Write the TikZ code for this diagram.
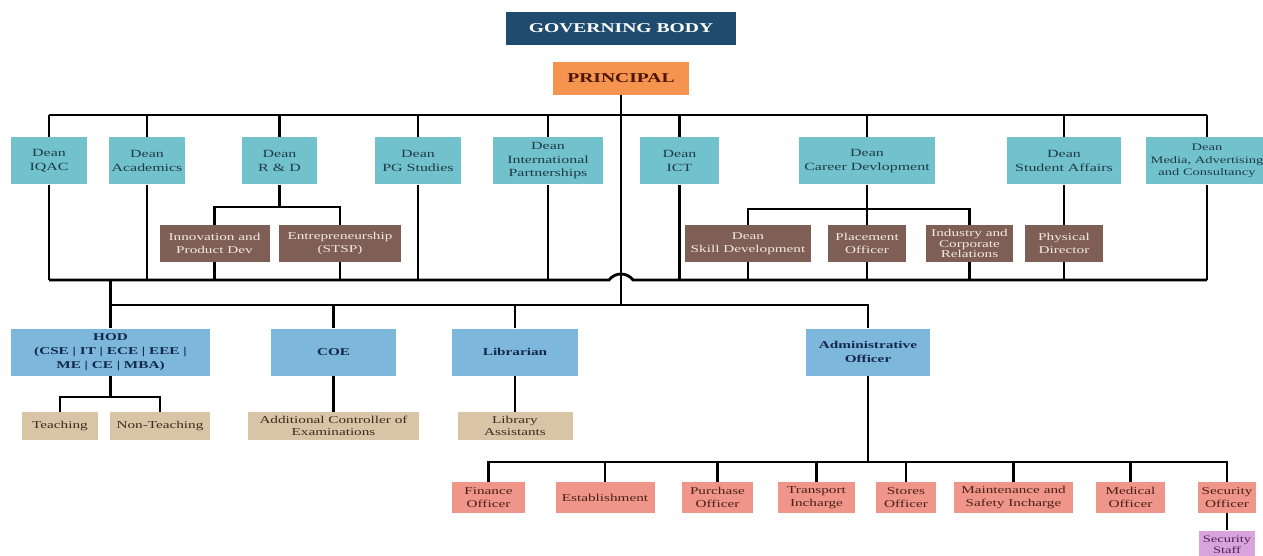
\documentclass[tikz,border=0pt]{standalone}
\usepackage{fontspec}
\setmainfont{Liberation Serif}[FakeStretch=1.45]
\usepackage{tikz}
\usetikzlibrary{calc}
\definecolor{govnavy}{HTML}{1F4B6E}
\definecolor{princorange}{HTML}{F5944E}
\definecolor{princtext}{HTML}{4B1508}
\definecolor{deanteal}{HTML}{72C2CD}
\definecolor{deantext}{HTML}{1F3B45}
\definecolor{unitbrown}{HTML}{7E5E55}
\definecolor{unittext}{HTML}{F3E9E4}
\definecolor{headblue}{HTML}{7DB8DC}
\definecolor{headtext}{HTML}{13294B}
\definecolor{stafftan}{HTML}{D9C4A6}
\definecolor{stafftext}{HTML}{3B2B1E}
\definecolor{officesalmon}{HTML}{F0958A}
\definecolor{officetext}{HTML}{4A2018}
\definecolor{guardlilac}{HTML}{D9A3DD}
\definecolor{guardtext}{HTML}{4E2450}

\begin{document}
\begin{tikzpicture}[
    x=1pt, y=-1pt,
    every node/.style={align=center, inner sep=0pt},
    govbox/.style={fill=govnavy, text=white, minimum height=33pt, font=\bfseries\fontsize{13.5}{15}\selectfont},
    princbox/.style={fill=princorange, text=princtext, minimum height=33pt, font=\bfseries\fontsize{13.5}{15}\selectfont},
    deanbox/.style={fill=deanteal, text=deantext, minimum height=47pt, font=\fontsize{11}{13.5}\selectfont},
    unitbox/.style={fill=unitbrown, text=unittext, minimum height=37pt, font=\fontsize{10.5}{12.5}\selectfont},
    headbox/.style={fill=headblue, text=headtext, minimum height=47pt, font=\bfseries\fontsize{10.5}{14}\selectfont},
    staffbox/.style={fill=stafftan, text=stafftext, minimum height=28pt, font=\fontsize{10.5}{11.5}\selectfont},
    officebox/.style={fill=officesalmon, text=officetext, minimum height=31pt, font=\fontsize{10.5}{13}\selectfont},
    guardbox/.style={fill=guardlilac, text=guardtext, minimum height=28pt, font=\fontsize{10}{10.5}\selectfont},
    link/.style={line width=2.8pt, black}
]
    \useasboundingbox[fill=white] (0,0) rectangle (1263,556);

    \node[govbox, minimum width=230pt] (gov) at (621,28.5) {GOVERNING BODY};
    \node[princbox, minimum width=136pt] (principal) at (621,78.5) {PRINCIPAL};

    \node[deanbox, minimum width=76pt] (iqac) at (49,161) {Dean\\IQAC};
    \node[deanbox, minimum width=76pt] (acad) at (147,161) {Dean\\Academics};
    \node[deanbox, minimum width=75pt] (rnd) at (279.5,161) {Dean\\R \& D};
    \node[deanbox, minimum width=86pt] (pg) at (418,161) {Dean\\PG Studies};
    \node[deanbox, minimum width=110pt] (intl) at (548,161) {Dean\\International\\Partnerships};
    \node[deanbox, minimum width=79pt] (ict) at (679.5,161) {Dean\\ICT};
    \node[deanbox, minimum width=136pt] (career) at (867,161) {Dean\\Career Devlopment};
    \node[deanbox, minimum width=114pt] (student) at (1064,161) {Dean\\Student Affairs};
    \node[deanbox, minimum width=122pt, font=\fontsize{10}{12.5}\selectfont] (media) at (1207,161) {Dean\\Media, Advertising\\and Consultancy};

    \node[unitbox, minimum width=110pt] (innov) at (214.5,243.5) {Innovation and\\Product Dev};
    \node[unitbox, minimum width=122pt] (entre) at (340,243.5) {Entrepreneurship\\(STSP)};
    \node[unitbox, minimum width=126pt] (skill) at (748,243.5) {Dean\\Skill Development};
    \node[unitbox, minimum width=78pt] (place) at (867,243.5) {Placement\\Officer};
    \node[unitbox, minimum width=87pt, font=\fontsize{10.5}{10.5}\selectfont] (industry) at (969.5,243.5) {Industry and\\Corporate\\Relations};
    \node[unitbox, minimum width=78pt] (physical) at (1064,243.5) {Physical\\Director};

    \node[headbox, minimum width=199pt] (hod) at (110.5,352) {HOD\\(CSE | IT | ECE | EEE |\\ME | CE | MBA)};
    \node[headbox, minimum width=125pt] (coe) at (333.5,352) {COE};
    \node[headbox, minimum width=126pt] (lib) at (515,352) {Librarian};
    \node[headbox, minimum width=124pt] (admin) at (868,352) {Administrative\\Officer};

    \node[staffbox, minimum width=76pt] (teach) at (60,426) {Teaching};
    \node[staffbox, minimum width=100pt] (nonteach) at (160,426) {Non-Teaching};
    \node[staffbox, minimum width=171pt] (addl) at (333.5,426) {Additional Controller of\\Examinations};
    \node[staffbox, minimum width=115pt] (libasst) at (515,426) {Library\\Assistants};

    \node[officebox, minimum width=73pt] (finance) at (488.5,497.5) {Finance\\Officer};
    \node[officebox, minimum width=99pt] (estab) at (605,497.5) {Establishment};
    \node[officebox, minimum width=71pt] (purchase) at (717.5,497.5) {Purchase\\Officer};
    \node[officebox, minimum width=77pt] (transport) at (816.5,497.5) {Transport\\Incharge};
    \node[officebox, minimum width=60pt] (stores) at (906,497.5) {Stores\\Officer};
    \node[officebox, minimum width=119pt] (maint) at (1013.5,497.5) {Maintenance and\\Safety Incharge};
    \node[officebox, minimum width=69pt] (medical) at (1130.5,497.5) {Medical\\Officer};
    \node[officebox, minimum width=58pt] (secoff) at (1227,497.5) {Security\\Officer};
    \node[guardbox, minimum width=56pt] (secstaff) at (1227,544.5) {Security\\Staff};

    \coordinate (topL) at (49,115);
    \coordinate (topR) at (1207,115);
    \coordinate (lowL) at (49,280);
    \coordinate (jumpL) at (609,280);
    \coordinate (jumpR) at (633,280);
    \coordinate (lowR) at (1207,280);
    \coordinate (rdbus) at (279.5,207);
    \coordinate (cdbus) at (867,209);
    \coordinate (midbus) at (621,305);
    \coordinate (hodbus) at (110.5,397);
    \coordinate (admbus) at (868,462);

    \draw[link] (principal) -- (midbus);
    \draw[link] (topL) -- (topR);
    \foreach \n in {iqac,acad,rnd,pg,intl,ict,career,student,media}
        \draw[link] (\n.north) -- (\n.north |- topL);
    \draw[link] (lowL) -- (jumpL) .. controls (615,272) and (627,272) .. (jumpR) -- (lowR);
    \foreach \n in {iqac,acad,innov,entre,pg,intl,ict,skill,place,industry,physical,media}
        \draw[link] (\n.south) -- (\n.south |- lowL);

    \draw[link] (rnd) -- (rdbus);
    \draw[link] (innov.north) |- (rdbus) -| (entre.north);
    \draw[link] (career) -- (place);
    \draw[link] (skill.north) |- (cdbus) -| (industry.north);
    \draw[link] (student) -- (physical);

    \draw[link] (hod.north) -- (hod.north |- lowL);
    \draw[link] (hod.north) |- (midbus) -| (admin.north);
    \draw[link] (coe.north) -- (coe.north |- midbus);
    \draw[link] (lib.north) -- (lib.north |- midbus);

    \draw[link] (hod) -- (hodbus);
    \draw[link] (teach.north) |- (hodbus) -| (nonteach.north);
    \draw[link] (coe) -- (addl);
    \draw[link] (lib) -- (libasst);

    \draw[link] (admin) -- (admbus);
    \draw[link] (finance.north) |- (admbus) -| (secoff.north);
    \foreach \n in {estab,purchase,transport,stores,maint,medical}
        \draw[link] (\n.north) -- (\n.north |- admbus);
    \draw[link] (secoff) -- (secstaff);
\end{tikzpicture}
\end{document}
